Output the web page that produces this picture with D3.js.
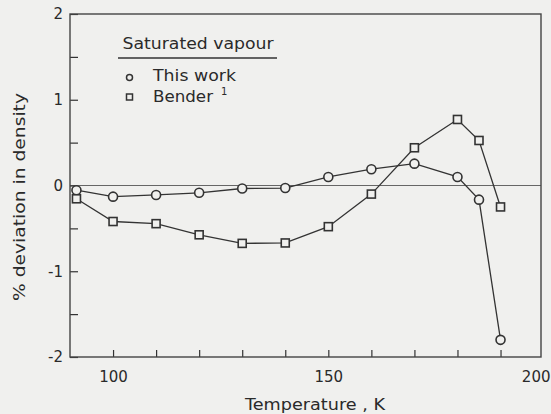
<!DOCTYPE html>
<html>
<head>
  <script src="https://cdn.jsdelivr.net/npm/d3@7"></script>
  <style>
    body { margin: 0; background: #f0f0ee; }
    svg { display: block; }
    text { font-family: "DejaVu Sans", sans-serif; fill: #2a2a2a; }
  </style>
</head>
<body>
  <div id="chart"></div>
  <script>
    // temperatures, K
    let temps = [91.5, 100, 110, 120, 130, 140, 150, 160, 170, 180, 185, 190];
    // % deviation in density, saturated vapour
    let thisWork = [-0.055, -0.13, -0.11, -0.085, -0.035, -0.03, 0.10, 0.19, 0.255, 0.10, -0.165, -1.80];
    let bender = [-0.155, -0.42, -0.445, -0.575, -0.675, -0.67, -0.48, -0.10, 0.44, 0.77, 0.525, -0.25];

    let xTicks = [100, 110, 120, 130, 140, 150, 160, 170, 180, 190];
    let xLabels = [100, 150, 200];
    let yTicks = [-2, -1.5, -1, -0.5, 0, 0.5, 1, 1.5, 2];
    let yLabels = [-2, -1, 0, 1, 2];

    let W = 551, H = 414;
    let margin = { left: 70, right: 541, top: 14, bottom: 357 };
    let ink = '#333';

    let x = d3.scaleLinear().domain([90, 199.4]).range([margin.left, margin.right]);
    let y = d3.scaleLinear().domain([-2, 2]).range([margin.bottom, margin.top]);

    let svg = d3.select('#chart').append('svg')
      .attr('width', W)
      .attr('height', H);

    // zero line
    svg.append('line')
      .attr('x1', margin.left).attr('x2', margin.right)
      .attr('y1', y(0)).attr('y2', y(0))
      .attr('stroke', '#666').attr('stroke-width', 1);

    // x ticks (inward)
    let xAxis = svg.append('g')
      .attr('transform', `translate(0, ${margin.bottom})`)
      .call(d3.axisBottom(x).tickValues(xTicks).tickSize(-7).tickFormat(''));
    xAxis.select('.domain').remove();
    xAxis.selectAll('line').attr('stroke', ink).attr('stroke-width', 1.2);

    let xLab = svg.append('g')
      .attr('transform', `translate(0, ${margin.bottom})`)
      .call(d3.axisBottom(x).tickValues(xLabels).tickSize(0).tickPadding(14));
    xLab.select('.domain').remove();
    xLab.selectAll('text')
      .style('font-size', '15px')
      .attr('fill', '#2a2a2a');
    xLab.selectAll('.tick').filter(d => d === 200).select('text')
      .attr('text-anchor', 'end')
      .attr('dx', 550 - x(200));

    // y ticks (inward)
    let yAxis = svg.append('g')
      .attr('transform', `translate(${margin.left}, 0)`)
      .call(d3.axisLeft(y).tickValues(yTicks).tickSize(-8).tickPadding(7)
        .tickFormat(d => yLabels.includes(d) ? String(d) : ''));
    yAxis.select('.domain').remove();
    yAxis.selectAll('line').attr('stroke', ink).attr('stroke-width', 1.2);
    yAxis.selectAll('text')
      .style('font-size', '15px')
      .attr('fill', '#2a2a2a');

    // frame
    svg.append('rect')
      .attr('x', margin.left).attr('y', margin.top)
      .attr('width', margin.right - margin.left).attr('height', margin.bottom - margin.top)
      .attr('fill', 'none')
      .attr('stroke', '#444').attr('stroke-width', 1.4);

    // series
    let line = d3.line().x(d => x(d[0])).y(d => y(d[1]));
    let circData = temps.map((t, i) => [t, thisWork[i]]);
    let sqData = temps.map((t, i) => [t, bender[i]]);

    svg.append('path').datum(circData)
      .attr('d', line).attr('fill', 'none')
      .attr('stroke', ink).attr('stroke-width', 1.3);
    svg.append('path').datum(sqData)
      .attr('d', line).attr('fill', 'none')
      .attr('stroke', ink).attr('stroke-width', 1.3);

    svg.selectAll('.pt-c').data(circData).enter()
      .append('circle')
      .attr('class', 'pt-c')
      .attr('cx', d => x(d[0]))
      .attr('cy', d => y(d[1]))
      .attr('r', 4.5)
      .attr('fill', '#f0f0ee')
      .attr('stroke', ink).attr('stroke-width', 1.6);

    svg.selectAll('.pt-s').data(sqData).enter()
      .append('rect')
      .attr('class', 'pt-s')
      .attr('x', d => x(d[0]) - 4)
      .attr('y', d => y(d[1]) - 4)
      .attr('width', 8).attr('height', 8)
      .attr('fill', '#f0f0ee')
      .attr('stroke', ink).attr('stroke-width', 1.6);

    // legend
    let leg = svg.append('g');
    leg.append('text')
      .attr('x', 122.5).attr('y', 49)
      .attr('textLength', 151).attr('lengthAdjust', 'spacingAndGlyphs')
      .style('font-size', '15px')
      .text('Saturated vapour');
    leg.append('line')
      .attr('x1', 118).attr('x2', 277)
      .attr('y1', 58).attr('y2', 58)
      .attr('stroke', ink).attr('stroke-width', 1.3);
    leg.append('circle')
      .attr('cx', 129.5).attr('cy', 77.5).attr('r', 3)
      .attr('fill', 'none').attr('stroke', ink).attr('stroke-width', 1.5);
    leg.append('text')
      .attr('x', 153).attr('y', 81)
      .attr('textLength', 83).attr('lengthAdjust', 'spacingAndGlyphs')
      .style('font-size', '15px')
      .text('This work');
    leg.append('rect')
      .attr('x', 126.5).attr('y', 94).attr('width', 6).attr('height', 6)
      .attr('fill', 'none').attr('stroke', ink).attr('stroke-width', 1.5);
    leg.append('text')
      .attr('x', 153).attr('y', 101.5)
      .attr('textLength', 60).attr('lengthAdjust', 'spacingAndGlyphs')
      .style('font-size', '15px')
      .text('Bender');
    leg.append('text')
      .attr('x', 221).attr('y', 95)
      .style('font-size', '10px')
      .text('1');

    // axis titles
    svg.append('text')
      .attr('x', 315).attr('y', 410)
      .attr('text-anchor', 'middle')
      .attr('textLength', 140).attr('lengthAdjust', 'spacingAndGlyphs')
      .style('font-size', '15px')
      .text('Temperature , K');

    svg.append('text')
      .attr('transform', 'translate(25, 197) rotate(-90)')
      .attr('text-anchor', 'middle')
      .attr('textLength', 208).attr('lengthAdjust', 'spacingAndGlyphs')
      .style('font-size', '15px')
      .text('% deviation in density');
  </script>
</body>
</html>
